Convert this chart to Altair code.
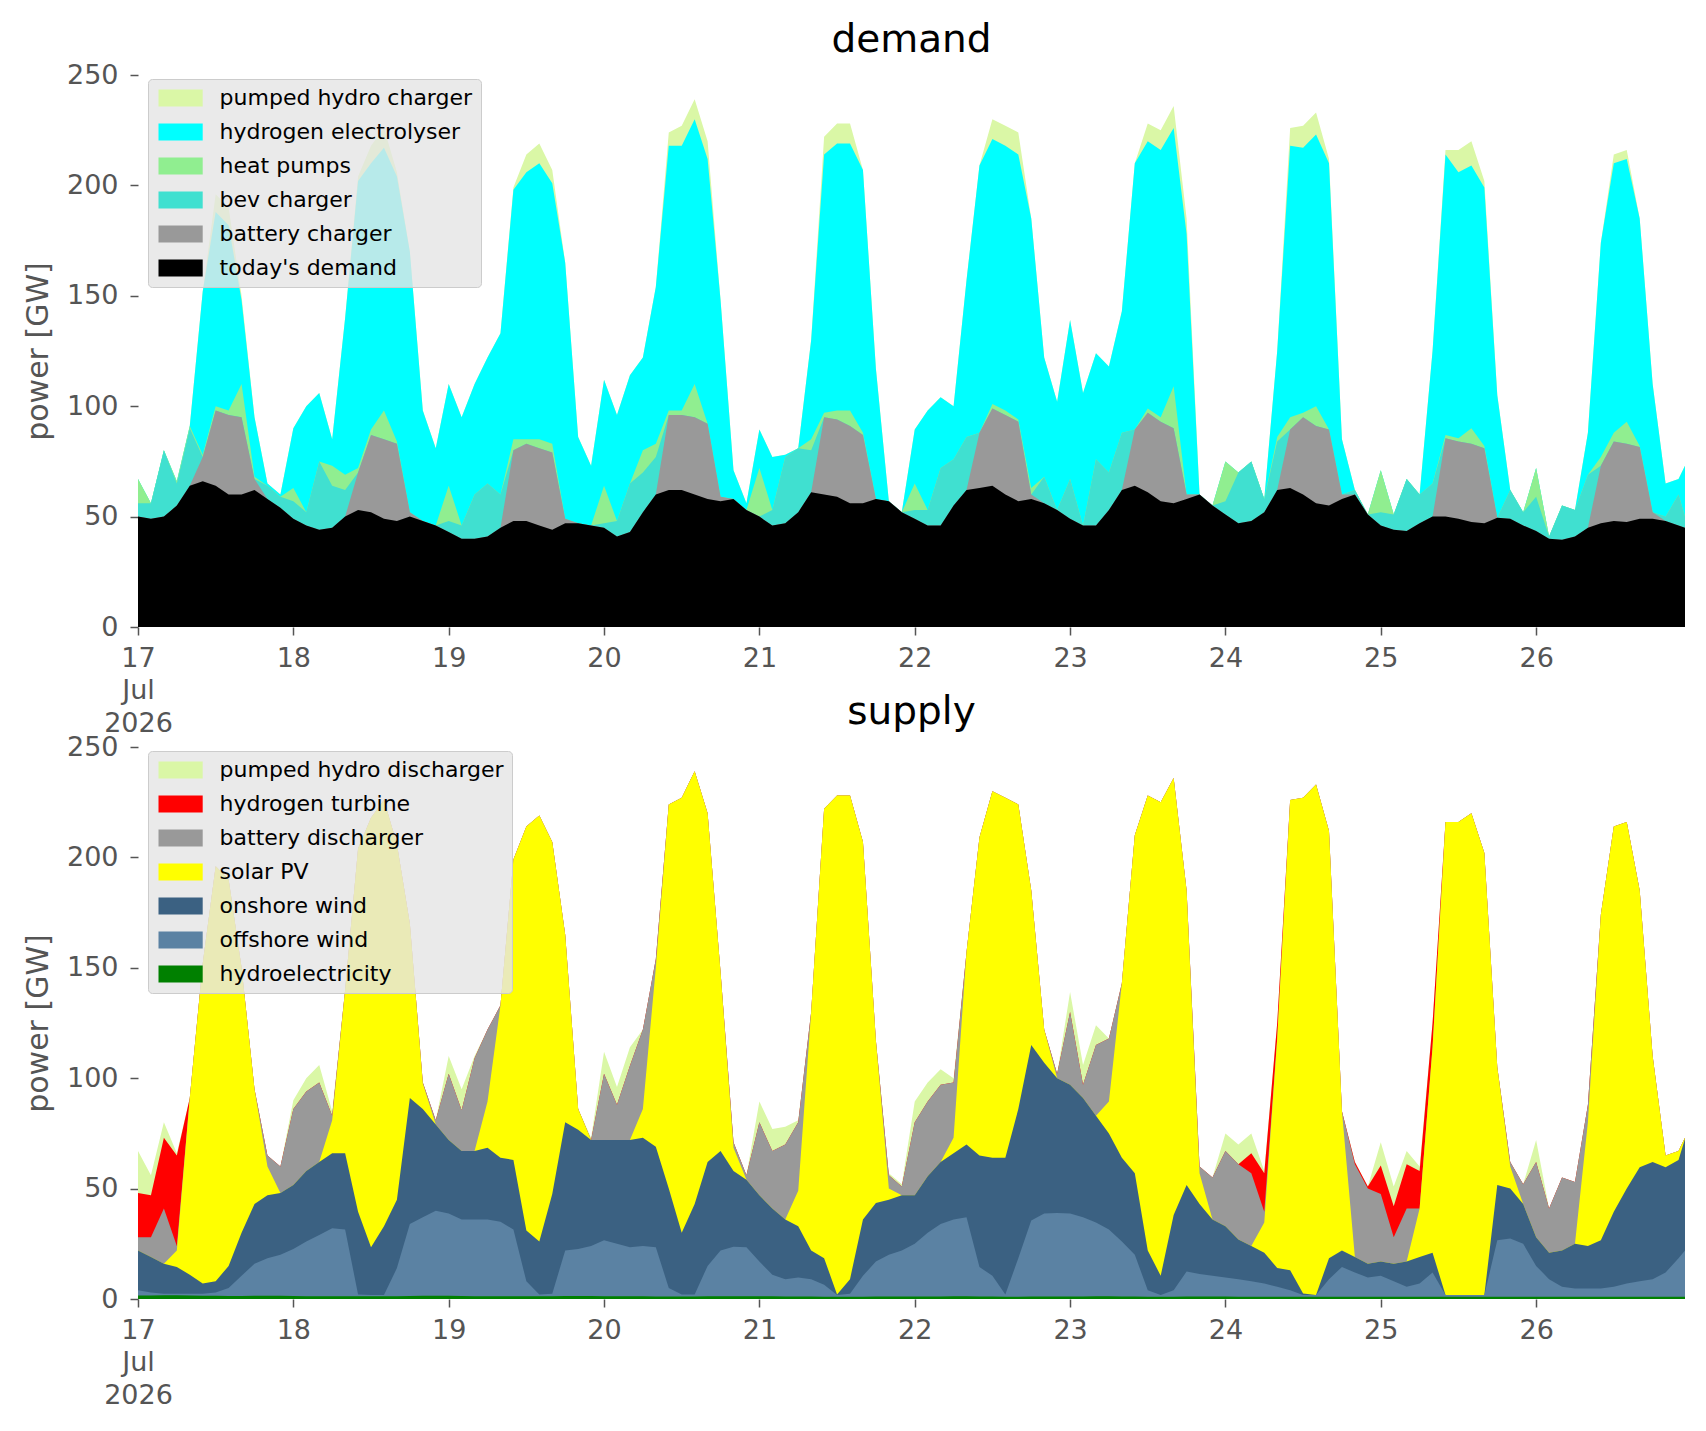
import pandas as pd
import altair as alt


# ── time axis: 2-hourly samples, the last one at 26 Jul 23:00 ──────────────────

TIMES = list(pd.date_range("2026-07-17 00:00", periods=120, freq="2h")) + [
    pd.Timestamp("2026-07-26 23:00")
]

# ── values (GW) ────────────────────────────────────────────────────────────────
# each list is the upper edge of a layer in the stack, bottom layer first

total_power = [
    67, 56, 80, 66, 91, 152, 196, 190, 150, 95, 65, 60,
    90, 100, 106, 85, 140, 204, 218, 226, 206, 170, 98, 81,
    110, 95, 110, 122, 133, 199, 214, 219, 207, 165, 86, 73,
    112, 96, 114, 122, 154, 224, 227, 239, 220, 148, 71, 56,
    89.5, 77, 78, 81, 130, 222, 228, 228, 207, 117, 57, 52,
    89.5, 98, 104, 100, 157, 209, 230, 227, 224, 185, 122, 102,
    139, 106, 124, 118, 143, 210, 228, 225, 236, 185, 60, 55,
    75, 70, 75, 58, 125, 226, 227, 233, 212, 85, 62, 51,
    71, 51, 67, 60, 125, 216, 216, 220, 202, 105, 62, 52,
    72, 41, 55, 53, 88, 174, 214, 216, 185, 110, 65, 67,
    73,
]

# demand side
top_today = [
    50, 49, 50, 55, 64, 66, 64, 60, 60, 62, 58, 54,
    49, 46, 44, 45, 50, 53, 52, 49, 48, 50, 48, 46,
    43, 40, 40, 41, 45, 48, 48, 46, 44, 47, 47, 46,
    45, 41, 43, 52, 60, 62, 62, 60, 58, 57, 58, 53,
    50, 46, 47, 52, 61, 60, 59, 56, 56, 58, 57, 52,
    49, 46, 46, 55, 62, 63, 64, 60, 57, 58, 56, 53,
    49, 46, 46, 53, 62, 64, 61, 57, 56, 58, 60, 55,
    51, 47, 48, 52, 62, 63, 60, 56, 55, 58, 60, 51,
    46, 44, 43.5, 47, 50, 50, 49, 47.6, 47, 49.5, 49, 46,
    43.5, 40, 39.5, 41, 45, 47, 48, 47.6, 49, 49, 48, 46,
    45,
]
top_battery_charger = [
    50, 49, 50, 55, 64, 77, 98, 96, 95, 67, 58, 54,
    49, 46, 44, 45, 50, 70, 87, 85, 83, 52, 48, 46,
    43, 40, 40, 41, 45, 80, 83, 81, 79, 49, 47, 46,
    45, 41, 43, 52, 60, 96, 96, 95, 92, 59, 58, 53,
    50, 46, 47, 52, 61, 95, 94, 91, 87, 58, 57, 52,
    49, 46, 46, 55, 62, 88, 99, 96, 93, 60, 56, 53,
    49, 46, 46, 53, 62, 89.5, 97, 93, 90, 60, 60, 55,
    51, 47, 48, 52, 62, 89.5, 95, 91, 89.5, 60, 60, 51,
    46, 44, 43.5, 47, 50, 85.5, 84, 83, 81, 49.5, 49, 46,
    43.5, 40, 39.5, 41, 45, 73, 84, 83, 81.5, 52, 48, 46,
    45,
]
top_bev = [
    56, 56, 80, 65, 90, 77, 98, 96, 95, 67, 64, 59,
    57, 52, 75, 64, 62, 70, 87, 85, 83, 52, 48, 46,
    48, 46, 60, 65, 60, 80, 83, 81, 79, 49, 47, 46,
    47, 48, 65, 70, 77, 96, 96, 95, 92, 59, 58, 53,
    50, 53, 77, 81, 80, 95, 94, 91, 87, 58, 57, 52,
    53, 53, 72, 76, 86, 88, 99, 96, 93, 60, 68, 53,
    67, 46, 76, 70, 88, 89.5, 97, 93, 90, 60, 60, 55,
    57, 70, 75, 58, 84, 89.5, 95, 91, 89.5, 60, 62, 51,
    52, 51, 67, 60, 65, 85.5, 84, 83, 81, 49.5, 62, 52,
    59, 41, 55, 53, 69, 73, 84, 83, 81.5, 52, 50, 60,
    50,
]
top_heat_pumps = [
    67, 56, 80, 66, 91, 78, 100, 98, 110, 68, 64, 59,
    63, 52, 75, 73, 69, 72, 89.5, 98, 84, 52, 48, 46,
    64, 46, 60, 65, 60, 85, 85, 85, 83, 49, 47, 46,
    64, 48, 65, 80, 83, 98, 98, 110, 92, 59, 58, 53,
    72, 53, 77, 81, 85, 97, 98, 98, 88, 58, 57, 52,
    65, 53, 72, 76, 86, 88, 101, 98, 94, 63, 68, 53,
    67, 46, 76, 70, 88, 89.5, 99, 95, 109, 60, 60, 55,
    75, 70, 75, 58, 86, 95, 97, 100, 89.5, 60, 62, 51,
    71, 51, 67, 60, 65, 87, 85.5, 90, 82, 49.5, 62, 52,
    72, 41, 55, 53, 69, 77, 88, 93, 82, 52, 50, 60,
    50,
]
top_electrolyser = [
    67, 56, 80, 66, 91, 152, 188, 182, 148, 95, 65, 60,
    90, 100, 106, 85, 140, 202, 210, 217, 204, 170, 98, 81,
    110, 95, 110, 122, 133, 198, 206, 210, 201, 165, 86, 73,
    112, 96, 114, 122, 154, 218, 218, 230, 212, 148, 71, 56,
    89.5, 77, 78, 81, 130, 214, 219, 219, 207, 117, 57, 52,
    89.5, 98, 104, 100, 157, 209, 221, 218, 214, 185, 122, 102,
    139, 106, 124, 118, 143, 210, 220, 216, 226, 178, 60, 55,
    75, 70, 75, 58, 125, 218, 217, 223, 210, 85, 62, 51,
    71, 51, 67, 60, 125, 214, 206, 209, 199, 105, 62, 52,
    72, 41, 55, 53, 88, 174, 210, 212, 185, 110, 65, 67,
    73,
]

# supply side
top_hydro = [
    1.6, 1.6, 1.7, 1.7, 1.6, 1.5, 1.5, 1.4, 1.4, 1.5, 1.5, 1.5,
    1.4, 1.3, 1.3, 1.2, 1.2, 1.2, 1.2, 1.3, 1.3, 1.4, 1.5, 1.5,
    1.5, 1.4, 1.3, 1.3, 1.2, 1.2, 1.2, 1.2, 1.3, 1.4, 1.4, 1.4,
    1.3, 1.3, 1.2, 1.2, 1.1, 1.1, 1.1, 1.1, 1.2, 1.2, 1.3, 1.3,
    1.2, 1.2, 1.1, 1.1, 1.1, 1.0, 1.0, 1.0, 1.0, 1.1, 1.1, 1.1,
    1.1, 1.1, 1.1, 1.2, 1.2, 1.1, 1.1, 1.0, 1.0, 1.1, 1.1, 1.1,
    1.1, 1.1, 1.2, 1.2, 1.1, 1.1, 1.0, 1.0, 1.0, 1.1, 1.1, 1.1,
    1.1, 1.0, 1.0, 1.0, 1.0, 1.0, 1.0, 1.0, 1.0, 1.0, 1.0, 1.0,
    1.0, 1.0, 1.0, 1.0, 1.0, 1.0, 1.0, 1.0, 1.0, 1.0, 1.0, 1.0,
    1.0, 1.0, 1.0, 1.0, 1.0, 1.0, 1.0, 1.0, 1.0, 1.0, 1.0, 1.0,
    1.0,
]
top_offshore = [
    4, 3, 2.4, 2.4, 2.4, 2.4, 3, 5, 10.5, 16, 18.5, 20,
    22.6, 26, 29, 32, 31.5, 2, 1.8, 1.8, 14, 34, 37, 40,
    38.7, 36, 36, 36, 35, 31.5, 8, 2, 2.4, 22, 22.6, 24,
    26.6, 25, 23.4, 24, 23.4, 5, 2, 2, 15, 22, 23.7, 23.4,
    17, 11, 9, 9.7, 9, 6.5, 1.8, 2.4, 10.5, 17, 20, 22,
    25, 30, 34, 36, 37, 14.5, 10.5, 2, 18.5, 35.5, 38.7, 39,
    38.7, 37, 34.7, 31.5, 26, 20, 4, 1.8, 4, 12.4, 11.3, 10.5,
    9.7, 9, 8, 7, 5.6, 4, 1.8, 1.8, 9, 14.5, 12, 9.7,
    10.5, 8, 5.6, 7, 12, 1.8, 1.8, 1.8, 1.8, 26.6, 27.4, 25,
    15, 9, 5.6, 4.8, 4.8, 4.8, 5.6, 7, 8, 9, 12, 18.5,
    22,
]
top_onshore = [
    22, 19, 16, 14.5, 11, 7, 8, 15, 30, 43, 47, 48,
    51.6, 58, 62, 66, 66, 39.5, 23.4, 33, 45, 91, 86, 79,
    72, 67, 67, 68.5, 64, 63, 31, 26, 47.6, 80, 76.6, 72,
    72, 72, 72, 73, 69, 50, 30, 43, 62, 67, 58, 54,
    47, 41, 36, 33, 22, 18.5, 2, 9, 36, 43.5, 45, 47,
    47, 55.6, 62, 66, 70, 65, 64, 64, 86, 115, 107, 100,
    97, 91, 83, 75, 64, 57, 22, 10.5, 38, 51.6, 43, 36,
    33, 27, 24, 21, 14, 13, 2.5, 1.8, 18.5, 22, 19, 16,
    17, 16, 17, 19, 21, 1.8, 1.8, 1.8, 1.8, 51.6, 50, 43,
    28, 21, 22, 25, 24, 26.6, 39.5, 50, 59.7, 62, 59.7, 63,
    72.6,
]
top_solar = [
    22, 19, 16, 22, 91, 152, 196, 190, 150, 95, 60, 48,
    51.6, 58, 62, 81, 140, 204, 218, 226, 206, 170, 97.6, 79,
    72, 67, 67, 89.5, 133, 199, 214, 219, 207, 165, 86, 72,
    72, 72, 72, 86, 150, 224, 227, 239, 220, 148, 68.5, 54,
    47, 41, 36, 49, 130, 222, 228, 228, 207, 117, 50, 47,
    47, 55.6, 62, 73, 157, 209, 230, 227, 224, 185, 122, 100,
    97, 91, 83, 89.5, 143, 210, 228, 225, 236, 185, 57, 36,
    33, 27, 24, 34.7, 118, 226, 227, 233, 212, 85, 19, 16,
    17, 16, 17, 41, 114, 216, 216, 220, 202, 105, 60, 43,
    28, 21, 22, 25, 80, 174, 214, 216, 185, 110, 65, 67,
    73,
]
top_battery_discharger = [
    28, 28, 41, 24, 91, 152, 196, 190, 150, 95, 65, 60,
    86, 94, 98, 83, 140, 204, 218, 226, 206, 170, 98, 81,
    102, 85.5, 109, 122, 133, 199, 214, 219, 207, 165, 86, 72,
    102, 88, 105.6, 122, 154, 224, 227, 239, 220, 148, 71, 56,
    80, 67, 70, 80, 130, 222, 228, 228, 207, 117, 56, 51,
    80, 89.5, 97, 98, 157, 209, 230, 227, 224, 185, 122, 102,
    130, 97, 115, 118, 143, 210, 228, 225, 236, 185, 60, 55,
    67, 61, 57, 39.5, 118, 226, 227, 233, 212, 85, 61, 50,
    47.6, 28, 41, 41, 114, 216, 216, 220, 202, 105, 62, 52,
    62, 41, 55, 53, 88, 174, 214, 216, 185, 110, 65, 67,
    73,
]
top_h2_turbine = [
    48, 47, 73, 65, 91, 152, 196, 190, 150, 95, 65, 60,
    86, 94, 98, 83, 140, 204, 218, 226, 206, 170, 98, 81,
    102, 85.5, 109, 122, 133, 199, 214, 219, 207, 165, 86, 72,
    102, 88, 105.6, 122, 154, 224, 227, 239, 220, 148, 71, 56,
    80, 67, 70, 80, 130, 222, 228, 228, 207, 117, 56, 51,
    80, 89.5, 97, 98, 157, 209, 230, 227, 224, 185, 122, 102,
    130, 97, 115, 118, 143, 210, 228, 225, 236, 185, 60, 55,
    67, 61, 66, 57, 125, 226, 227, 233, 212, 85, 62, 51,
    60.5, 42, 61, 58, 125, 216, 216, 220, 202, 105, 62, 52,
    62, 41, 55, 53, 88, 174, 214, 216, 185, 110, 65, 67,
    73,
]

# ── series metadata: (label, upper edge, colour), bottom of the stack first ──

DEMAND = [
    ("today's demand", top_today, "#000000"),
    ("battery charger", top_battery_charger, "#999999"),
    ("bev charger", top_bev, "#40e0d0"),
    ("heat pumps", top_heat_pumps, "#90ee90"),
    ("hydrogen electrolyser", top_electrolyser, "#00ffff"),
    ("pumped hydro charger", total_power, "#daf7a6"),
]

SUPPLY = [
    ("hydroelectricity", top_hydro, "#008000"),
    ("offshore wind", top_offshore, "#5b82a3"),
    ("onshore wind", top_onshore, "#3b6182"),
    ("solar PV", top_solar, "#ffff00"),
    ("battery discharger", top_battery_discharger, "#999999"),
    ("hydrogen turbine", top_h2_turbine, "#ff0000"),
    ("pumped hydro discharger", total_power, "#daf7a6"),
]

FONT = "DejaVu Sans"
PLOT_W, PLOT_H = 1547, 552


# ── chart helper ───────────────────────────────────────────────────────────────

def stack_panel(series: list, title: str) -> alt.LayerChart:
    """
    Stacked-area panel. Every layer is filled from zero up to its upper edge,
    drawn top layer first so the lower ones sit on top without seams.
    """
    legend_order = [name for name, _, _ in reversed(series)]
    colours = {name: colour for name, _, colour in series}

    color = alt.Color(
        "series:N",
        scale=alt.Scale(domain=legend_order, range=[colours[n] for n in legend_order]),
        legend=alt.Legend(
            title=None,
            orient="none",
            legendX=10,
            legendY=4,
            fillColor="rgba(229,229,229,0.8)",
            strokeColor="#cccccc",
            cornerRadius=4,
            padding=8,
            symbolType="M-2.6,-1H2.6V1H-2.6Z",
            symbolSize=289,
            symbolOffset=13.6,
            symbolStrokeWidth=0,
            symbolOpacity=1,
            labelOffset=28,
            labelFont=FONT,
            labelFontSize=22,
            labelColor="#000000",
            labelLimit=400,
            rowPadding=12,
        ),
    )

    x = alt.X(
        "time:T",
        title=None,
        scale=alt.Scale(
            domain=[
                alt.DateTime(year=2026, month=7, date=17),
                alt.DateTime(year=2026, month=7, date=26, hours=23),
            ],
            nice=False,
        ),
        axis=alt.Axis(
            values=[alt.DateTime(year=2026, month=7, date=d) for d in range(17, 27)],
            labelExpr=(
                "timeFormat(datum.value, '%d') == '17' ? ['17', 'Jul', '2026'] "
                ": timeFormat(datum.value, '%d')"
            ),
            labelFlush=False,
            labelOverlap=False,
            labelPadding=10,
            labelLineHeight=32.5,
        ),
    )
    y = alt.Y(
        "top:Q",
        title="power [GW]",
        scale=alt.Scale(domain=[0, 250], nice=False),
        axis=alt.Axis(values=[0, 50, 100, 150, 200, 250], labelPadding=12, titlePadding=13),
    )

    layers = []
    for name, tops, _ in reversed(series):
        frame = pd.DataFrame({"time": TIMES, "series": name, "top": tops})
        layers.append(
            alt.Chart(frame).mark_area(opacity=1).encode(x=x, y=y, color=color)
        )

    return alt.layer(*layers).properties(
        width=PLOT_W,
        height=PLOT_H,
        title=alt.TitleParams(text=title, anchor="middle", frame="group"),
    )


demand = stack_panel(DEMAND, "demand")
supply = stack_panel(SUPPLY, "supply")

chart = (
    alt.vconcat(demand, supply, spacing=120, bounds="flush")
    .resolve_scale(color="independent")
    .properties(padding={"left": 15, "top": 13, "right": 5, "bottom": 5})
    .configure(font=FONT)
    .configure_axis(
        domain=False,
        grid=False,
        labelFont=FONT,
        labelFontSize=27,
        labelColor="#555555",
        tickColor="#555555",
        tickSize=8,
        tickWidth=1.5,
        titleFont=FONT,
        titleFontSize=30,
        titleFontWeight="normal",
        titleColor="#555555",
    )
    .configure_title(
        font=FONT, fontSize=39, fontWeight="normal", color="#000000",
        baseline="alphabetic", offset=1,
    )
    .configure_view(strokeWidth=0)
)

chart.save("out.html", embed_options={"renderer": "svg", "actions": False})
